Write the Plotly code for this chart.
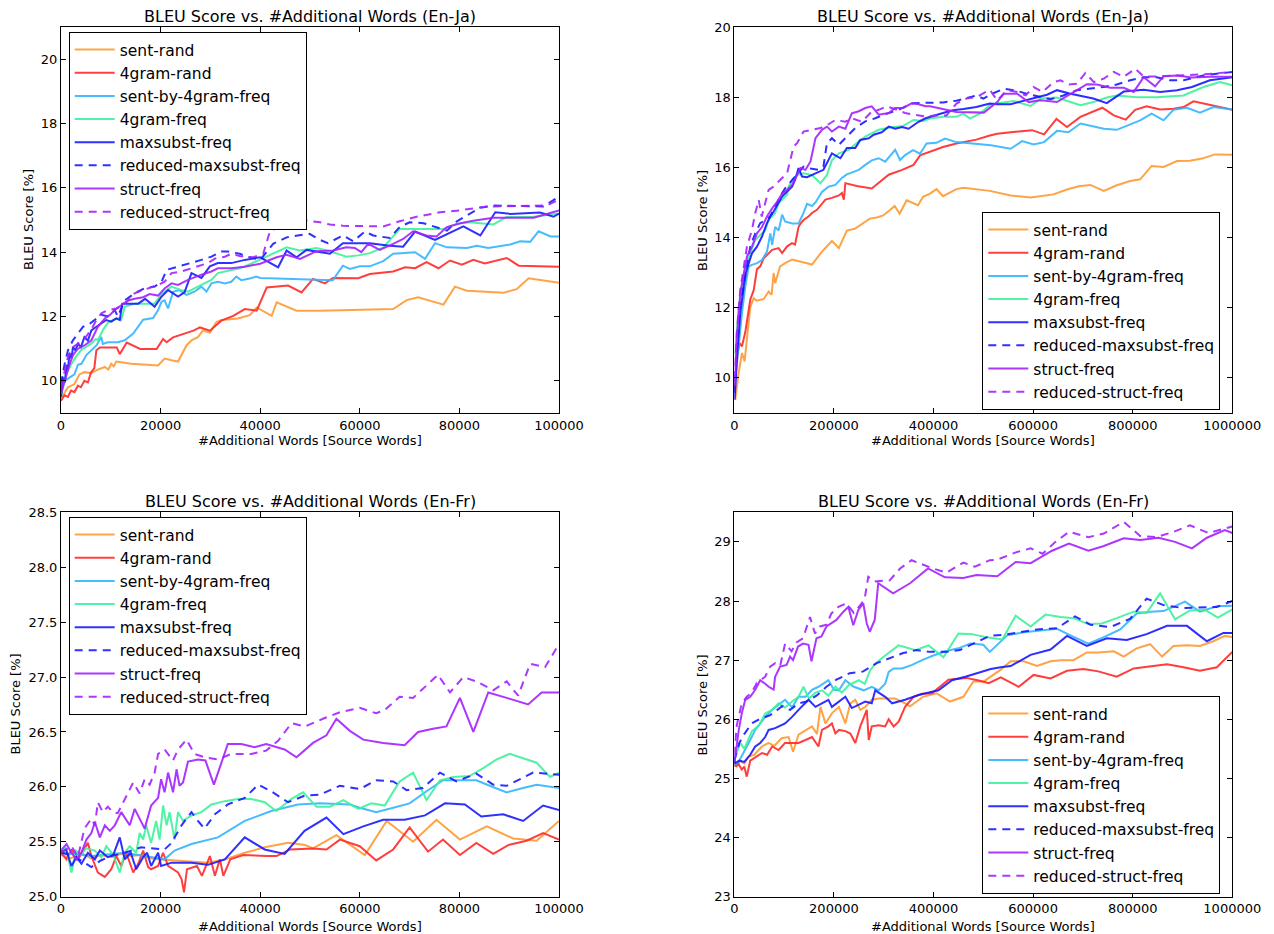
import plotly.graph_objects as go

W, H = 1274, 934

NAMES = ["sent-rand", "4gram-rand", "sent-by-4gram-freq", "4gram-freq",
         "maxsubst-freq", "reduced-maxsubst-freq", "struct-freq", "reduced-struct-freq"]
COLORS = ["#ff9a33", "#ff2b2b", "#33b5ff", "#3df29b", "#1a1aff", "#1a1aff", "#a322ff", "#a322ff"]
DASHES = ["solid", "solid", "solid", "solid", "solid", "8px,6px", "solid", "8px,6px"]

# x values are in thousands of source words
# ---------------- Top-left: En-Ja, 0-100k ----------------
TL_SENT_RAND_X = [0, 1.4, 2.7, 3.7, 4.7, 6, 7.4, 8.8, 9.5, 10.1, 10.6, 11.1, 12.1, 14.1, 19.5, 20.8, 22.2, 23.5, 25.2, 26.2, 27.5, 28.5, 29.9, 31.2, 32.2, 35.5, 37.9, 39.3, 42.3, 43.3, 47.3, 52, 66.7, 69.4, 71.7, 76.8, 79.1, 81.5, 88.9, 91.5, 93.9, 100]
TL_SENT_RAND_Y = [9.45, 9.8, 9.9, 10.2, 10.27, 10.24, 10.35, 10.43, 10.35, 10.53, 10.45, 10.6, 10.58, 10.53, 10.48, 10.69, 10.64, 10.6, 11.1, 11.26, 11.36, 11.57, 11.5, 11.83, 11.89, 11.94, 12.04, 12.28, 12.02, 12.44, 12.18, 12.18, 12.23, 12.51, 12.6, 12.37, 12.93, 12.8, 12.74, 12.85, 13.19, 13.05]
TL_4GRAM_RAND_X = [0, 0.7, 1.4, 2.0, 2.7, 3.4, 4.0, 4.7, 5.4, 6.0, 6.7, 7.1, 7.8, 8.8, 11.2, 11.8, 13.2, 15.9, 19.2, 20.5, 21.2, 22.5, 26.6, 27.9, 29.9, 32.2, 34.6, 36.9, 39.3, 41.3, 45.6, 48.3, 50.6, 53, 54.6, 59.7, 62, 66.7, 69.1, 71.1, 73.4, 75.8, 78.1, 80.5, 82.8, 85.1, 89.5, 91.9, 100]
TL_4GRAM_RAND_Y = [9.38, 9.55, 9.5, 9.7, 9.65, 9.85, 9.8, 10.0, 9.95, 10.25, 10.4, 10.95, 11.04, 11.04, 11.04, 10.83, 11.19, 10.99, 10.99, 11.3, 11.2, 11.35, 11.56, 11.66, 11.56, 11.87, 12.02, 12.23, 12.18, 12.9, 12.96, 12.75, 13.17, 13.03, 13.2, 13.19, 13.32, 13.4, 13.53, 13.5, 13.69, 13.5, 13.74, 13.61, 13.76, 13.65, 13.82, 13.58, 13.55]
TL_SB4_X = [0, 0.7, 1.7, 2.7, 3.4, 4.1, 5.1, 6.1, 7.1, 8.1, 8.4, 9.4, 11.4, 12.8, 14.5, 16.5, 18.5, 19.5, 20.2, 20.8, 21.5, 22.5, 23.8, 25.2, 26.8, 28.2, 29.2, 30.2, 31.5, 32.9, 34.2, 35.2, 36.2, 37.9, 39.2, 40, 54.6, 56.6, 58, 60, 62, 64.7, 66.7, 71.1, 73.1, 75.1, 77.5, 81.5, 83.5, 85.8, 90.2, 92.2, 94.2, 95.9, 98.3, 100]
TL_SB4_Y = [9.8, 10.0, 10.1, 10.2, 10.5, 10.53, 10.8, 10.95, 11.1, 11.36, 11.15, 11.2, 11.2, 11.26, 11.47, 11.9, 11.95, 12.2, 12.46, 12.5, 12.25, 12.77, 12.82, 12.67, 12.77, 12.93, 12.77, 13.03, 13.08, 13.03, 13.08, 13.24, 13.13, 13.18, 13.24, 13.2, 13.13, 13.58, 13.48, 13.56, 13.56, 13.72, 13.95, 14.0, 13.79, 14.28, 14.15, 14.13, 14.2, 14.13, 14.24, 14.34, 14.32, 14.65, 14.49, 14.49]
TL_4GRAM_FREQ_X = [0, 1, 2, 3, 4, 5, 6, 7, 7.4, 8.5, 9.4, 10.5, 11.5, 12.1, 12.8, 14.8, 18.8, 20.2, 22.2, 24.2, 25.5, 27.5, 28.9, 30.2, 31.5, 32.9, 34.2, 35.9, 37.6, 39.2, 45.3, 47.9, 51.3, 54, 57.3, 59.7, 62, 64.7, 68, 76.8, 79.4, 82.1, 86.8, 89.5, 94.9, 100]
TL_4GRAM_FREQ_Y = [9.5, 10.2, 10.5, 10.75, 10.95, 11.05, 11.15, 11.3, 11.26, 11.6, 11.8, 11.9, 11.95, 11.9, 12.3, 12.4, 12.4, 12.7, 12.93, 12.82, 12.77, 12.93, 13.03, 13.14, 13.35, 13.4, 13.45, 13.5, 13.6, 13.71, 14.15, 14.05, 14.13, 14.03, 13.86, 13.9, 13.97, 14.15, 14.72, 14.72, 14.88, 14.93, 14.86, 15.09, 15.1, 15.2]
TL_MAXSUBST_X = [0, 0.4, 0.8, 1.1, 1.4, 1.7, 2.1, 2.4, 2.9, 3.4, 4.0, 4.7, 5.4, 6.1, 7.1, 8.1, 9.1, 10.1, 11.1, 11.8, 12.3, 12.8, 15.5, 16.9, 18.8, 20.2, 21.5, 23.5, 24.8, 26.2, 28.2, 29.9, 31.5, 34.2, 36.9, 40, 43.6, 45.3, 47.3, 49.3, 52, 54, 56.6, 62, 66, 68.7, 71.1, 75.1, 80.8, 84.2, 87.2, 90.2, 96.2, 98.9, 100]
TL_MAXSUBST_Y = [9.5, 10.1, 9.95, 10.5, 10.35, 10.85, 10.7, 11.05, 10.95, 11.15, 11.05, 11.36, 11.25, 11.57, 11.68, 11.78, 11.89, 11.84, 11.94, 11.89, 12.4, 12.4, 12.4, 12.55, 12.3, 12.62, 12.82, 12.62, 12.75, 13.35, 13.2, 13.56, 13.66, 13.66, 13.76, 13.84, 13.53, 14.05, 13.84, 14.07, 14.0, 13.95, 14.28, 14.28, 14.2, 14.17, 14.64, 14.38, 14.8, 14.52, 15.24, 15.19, 15.23, 15.1, 15.2]
TL_RED_MAXSUBST_X = [0, 0.7, 1.4, 2.4, 3.4, 4.4, 5.4, 6.8, 8.1, 9.4, 10.8, 11.4, 12.8, 14.8, 16.8, 18.8, 20.2, 21.2, 23.5, 26.2, 28.2, 30.2, 32.2, 33.5, 35.9, 37.9, 40, 42.6, 45.3, 47.5, 49.9, 52, 53.6, 56.6, 58.7, 61, 62.7, 66, 68, 70, 72.8, 77.5, 79.5, 84.2, 86.8, 96.9, 100]
TL_RED_MAXSUBST_Y = [9.9, 10.5, 10.95, 11.26, 11.47, 11.68, 11.73, 11.9, 12.05, 12.0, 12.2, 12.0, 12.5, 12.72, 12.88, 12.93, 13.08, 13.45, 13.55, 13.66, 13.76, 13.86, 14.02, 14.02, 13.95, 13.84, 13.76, 14.26, 14.46, 14.52, 14.57, 14.38, 14.28, 14.52, 14.34, 14.64, 14.52, 14.44, 14.78, 14.93, 14.9, 14.67, 14.96, 15.38, 15.45, 15.42, 15.73]
TL_STRUCT_X = [0, 0.7, 1.7, 2.4, 3.4, 4.7, 6.1, 7.4, 8.8, 9.8, 10.8, 12.1, 13.5, 14.8, 16.5, 17.8, 19.5, 20.8, 22.2, 23.5, 25.5, 28.2, 30.2, 31.5, 34.2, 36.9, 40, 43.3, 45.3, 48, 51.3, 54.6, 57.3, 59, 60.3, 61.7, 64, 66.7, 68.7, 70.7, 73.4, 75.4, 77.5, 80.2, 82.8, 86.8, 94.9, 100]
TL_STRUCT_Y = [9.6, 10.0, 10.5, 10.8, 11.0, 11.1, 11.26, 11.68, 11.94, 12.05, 12.2, 12.35, 12.5, 12.55, 12.6, 12.7, 12.65, 12.87, 13.03, 12.98, 13.14, 13.3, 13.4, 13.5, 13.5, 13.55, 13.64, 13.84, 13.92, 13.79, 14.03, 14.05, 14.15, 14.13, 14.0, 14.26, 14.07, 14.26, 14.41, 14.65, 14.52, 14.49, 14.78, 14.9, 14.98, 15.07, 15.07, 15.3]
TL_RED_STRUCT_X = [0, 1.4, 2.4, 3.4, 4.7, 6.1, 7.1, 8.1, 9.4, 11.1, 12.4, 13.5, 14.5, 15.5, 17.5, 19.5, 20.8, 22.2, 24.2, 26.2, 27.5, 29.5, 30.9, 32.9, 34.2, 35.9, 37.6, 38.6, 40.6, 42, 45.3, 48, 52, 54, 56.6, 64.7, 68, 71.4, 76.1, 80.1, 85.5, 97.5, 100]
TL_RED_STRUCT_Y = [9.8, 10.75, 11.05, 11.15, 11.3, 11.6, 11.89, 12.1, 12.2, 12.25, 12.35, 12.5, 12.7, 12.77, 12.88, 12.98, 13.08, 13.35, 13.4, 13.5, 13.55, 13.66, 13.8, 13.86, 13.95, 13.88, 13.84, 13.84, 13.95, 14.67, 14.83, 15.0, 14.93, 14.86, 14.82, 14.8, 14.96, 15.1, 15.24, 15.3, 15.42, 15.45, 15.63]

# ---------------- Top-right: En-Ja, 0-1000k ----------------
TR_SENT_RAND_X = [2, 8.7, 15.4, 20.7, 26, 32, 35.5, 39, 45, 59, 69, 75, 79, 82, 92, 102, 116, 156, 176, 196, 210, 226, 242, 259, 272, 286, 299, 312, 322, 332, 346, 369, 379, 393, 406, 419, 446, 460, 473, 513, 555, 595, 641, 668, 692, 715, 742, 768, 795, 815, 838, 862, 889, 915, 939, 965, 1000]
TR_SENT_RAND_Y = [9.38, 10.14, 10.71, 10.47, 11.2, 12.0, 12.15, 12.27, 12.2, 12.25, 12.46, 12.37, 12.99, 12.7, 13.18, 13.27, 13.37, 13.23, 13.6, 13.9, 13.7, 14.2, 14.25, 14.4, 14.54, 14.57, 14.63, 14.78, 14.9, 14.68, 15.06, 14.92, 15.16, 15.25, 15.38, 15.18, 15.38, 15.42, 15.4, 15.33, 15.2, 15.14, 15.23, 15.37, 15.46, 15.5, 15.33, 15.49, 15.61, 15.66, 16.04, 16.01, 16.18, 16.19, 16.25, 16.37, 16.36]
TR_4GRAM_RAND_X = [0.7, 5, 10, 15.4, 22, 29, 32, 39, 45.5, 52, 59, 69, 76, 89, 96, 106, 116, 122, 129, 133, 139, 149, 156, 166, 173, 183, 196, 210, 216, 220, 223, 246, 276, 310, 337, 360, 373, 393, 419, 446, 486, 513, 528, 555, 598, 622, 647, 668, 695, 739, 762, 786, 805, 828, 855, 882, 902, 922, 1000]
TR_4GRAM_RAND_Y = [9.66, 10.52, 11.0, 10.9, 11.3, 11.9, 12.23, 12.5, 13.1, 13.18, 13.41, 13.55, 13.65, 13.7, 13.56, 13.75, 13.84, 13.8, 14.3, 14.4, 14.5, 14.6, 14.7, 14.79, 14.9, 15.08, 15.13, 15.2, 15.27, 15.08, 15.55, 15.47, 15.4, 15.79, 15.93, 16.07, 16.34, 16.44, 16.58, 16.68, 16.79, 16.91, 16.96, 17.0, 17.06, 16.94, 17.38, 17.15, 17.44, 17.7, 17.48, 17.36, 17.64, 17.74, 17.65, 17.67, 17.72, 17.88, 17.64]
TR_SB4_X = [2, 8.7, 15.4, 22, 29, 35.5, 45.5, 55.6, 65.6, 72.3, 76, 82, 89, 96, 102, 116, 129, 139, 146, 156, 163, 176, 189, 203, 216, 226, 250, 263, 276, 290, 303, 323, 333, 343, 359, 373, 386, 406, 423, 446, 486, 515, 555, 578, 601, 622, 648, 671, 695, 742, 768, 795, 815, 838, 862, 882, 909, 935, 962, 1000]
TR_SB4_Y = [9.95, 11.0, 11.85, 12.6, 13.18, 13.22, 13.27, 13.36, 13.6, 14.12, 13.79, 14.3, 14.2, 14.65, 14.46, 14.4, 14.4, 14.7, 14.96, 14.9, 15.0, 15.3, 15.45, 15.5, 15.7, 15.8, 15.93, 16.07, 16.2, 16.26, 16.16, 16.5, 16.21, 16.35, 16.49, 16.39, 16.68, 16.7, 16.82, 16.72, 16.66, 16.63, 16.53, 16.75, 16.65, 16.72, 17.04, 17.0, 17.25, 17.1, 17.07, 17.22, 17.34, 17.53, 17.34, 17.64, 17.7, 17.56, 17.72, 17.65]
TR_4GRAM_FREQ_X = [2, 8.7, 15.4, 22, 32, 42, 55.6, 62, 69, 82, 89, 96, 106, 109, 116, 126, 139, 156, 173, 186, 196, 210, 230, 250, 263, 290, 317, 337, 360, 379, 393, 419, 446, 460, 473, 493, 515, 561, 595, 615, 648, 695, 721, 748, 768, 808, 848, 902, 942, 975, 1000]
TR_4GRAM_FREQ_Y = [10.7, 12.0, 12.5, 13.18, 13.55, 13.93, 14.12, 14.2, 14.5, 14.7, 14.98, 15.07, 15.22, 15.45, 15.64, 15.78, 15.83, 15.78, 15.55, 15.78, 16.2, 16.4, 16.5, 16.74, 16.88, 17.07, 17.15, 17.17, 17.35, 17.32, 17.39, 17.44, 17.44, 17.53, 17.39, 17.53, 17.8, 17.89, 17.75, 17.96, 17.99, 17.77, 17.86, 17.99, 18.05, 18.0, 18.0, 18.05, 18.29, 18.43, 18.34]
TR_MAXSUBST_X = [0.7, 5, 12, 17, 22, 29, 35.5, 45.5, 55.6, 65.6, 72, 79, 89, 96, 106, 116, 122, 129, 136, 146, 163, 179, 196, 213, 226, 243, 253, 270, 280, 296, 310, 323, 337, 350, 370, 384, 419, 439, 460, 486, 513, 528, 555, 595, 628, 648, 675, 721, 748, 782, 822, 855, 889, 919, 955, 1000]
TR_MAXSUBST_Y = [9.38, 10.52, 11.85, 12.42, 12.94, 13.27, 13.55, 13.74, 14.03, 14.41, 14.6, 14.74, 14.98, 15.17, 15.31, 15.45, 15.64, 15.98, 15.74, 15.72, 15.83, 15.93, 16.4, 16.26, 16.55, 16.55, 16.78, 16.83, 16.93, 17.0, 17.16, 17.1, 17.15, 17.1, 17.3, 17.4, 17.55, 17.63, 17.66, 17.72, 17.82, 17.8, 17.8, 17.94, 18.07, 18.2, 18.1, 17.96, 17.83, 18.16, 18.21, 18.15, 18.2, 18.29, 18.48, 18.57]
TR_RED_MAXSUBST_X = [0.7, 5, 12, 19, 25.4, 32, 42, 52, 62, 72, 82, 92, 102, 116, 126, 139, 153, 169, 179, 186, 196, 210, 226, 243, 263, 283, 300, 310, 330, 343, 360, 384, 419, 446, 473, 486, 500, 515, 541, 568, 591, 615, 635, 661, 688, 742, 768, 795, 822, 848, 875, 902, 942, 1000]
TR_RED_MAXSUBST_Y = [9.57, 10.8, 12.04, 12.6, 13.18, 13.74, 14.12, 14.41, 14.5, 14.6, 14.88, 15.17, 15.4, 15.64, 15.83, 16.02, 15.97, 15.93, 16.02, 16.69, 16.83, 16.64, 16.88, 17.12, 17.31, 17.4, 17.5, 17.55, 17.64, 17.73, 17.83, 17.84, 17.85, 17.9, 18.0, 18.05, 17.96, 18.08, 18.24, 18.18, 18.08, 18.0, 17.94, 18.05, 18.2, 18.29, 18.36, 18.48, 18.57, 18.57, 18.48, 18.48, 18.62, 18.72]
TR_STRUCT_X = [0.7, 5, 12, 19, 25.4, 35.5, 45.5, 55.6, 65.6, 76, 86, 96, 106, 116, 126, 133, 143, 153, 163, 176, 186, 196, 210, 223, 236, 250, 263, 276, 290, 310, 323, 340, 357, 370, 384, 393, 446, 474, 501, 528, 541, 568, 591, 615, 648, 688, 708, 728, 755, 782, 802, 822, 845, 862, 889, 919, 955, 1000]
TR_STRUCT_Y = [9.76, 11.09, 12.42, 12.99, 13.46, 13.74, 14.12, 14.3, 14.6, 14.83, 15.02, 15.26, 15.36, 15.5, 15.78, 15.98, 15.93, 16.17, 16.83, 17.07, 17.16, 17.02, 17.16, 17.1, 17.54, 17.6, 17.69, 17.74, 17.5, 17.55, 17.69, 17.7, 17.83, 17.8, 17.74, 17.74, 17.58, 17.58, 17.56, 17.86, 18.1, 18.1, 17.86, 17.91, 17.86, 18.2, 18.37, 18.36, 18.27, 18.27, 18.15, 18.57, 18.31, 18.6, 18.62, 18.56, 18.58, 18.58]
TR_RED_STRUCT_X = [0.7, 5, 12, 19, 25.4, 35.5, 42, 49, 55, 69, 79, 92, 106, 119, 126, 139, 156, 173, 186, 203, 223, 236, 256, 276, 290, 306, 325, 343, 360, 384, 406, 426, 446, 466, 486, 513, 528, 548, 568, 585, 601, 619, 641, 655, 672, 688, 705, 722, 742, 762, 782, 805, 822, 848, 889, 942, 1000]
TR_RED_STRUCT_Y = [9.95, 11.28, 12.51, 13.18, 13.74, 14.22, 14.69, 15.07, 14.6, 15.36, 15.45, 15.64, 15.83, 16.59, 16.69, 17.02, 17.07, 17.12, 17.2, 17.35, 17.3, 17.4, 17.3, 17.59, 17.64, 17.74, 17.65, 17.55, 17.5, 17.45, 17.48, 17.48, 17.82, 17.96, 18.0, 18.21, 17.91, 18.2, 18.15, 18.05, 18.29, 18.15, 18.43, 18.48, 18.36, 18.38, 18.69, 18.43, 18.53, 18.72, 18.58, 18.81, 18.59, 18.59, 18.62, 18.65, 18.72]

# ---------------- Bottom-left: En-Fr, 0-100k ----------------
BL_SENT_RAND_X = [0, 2, 4, 6, 8, 10, 12, 14, 16, 18, 19.5, 23.5, 27, 29.5, 32.9, 36.9, 40.9, 45.6, 49, 50.6, 55.3, 61, 65.4, 70.7, 75.4, 80.1, 85.5, 90.8, 95.5, 100]
BL_SENT_RAND_Y = [25.38, 25.35, 25.4, 25.35, 25.38, 25.36, 25.39, 25.37, 25.38, 25.35, 25.34, 25.33, 25.32, 25.31, 25.34, 25.4, 25.45, 25.49, 25.47, 25.44, 25.56, 25.38, 25.69, 25.5, 25.7, 25.52, 25.64, 25.53, 25.51, 25.69]
BL_4GRAM_RAND_X = [0, 1.1, 2.1, 3.4, 5.4, 6.1, 7.4, 8.8, 10.1, 11.1, 12.1, 13.1, 14.5, 15.5, 16.5, 17.5, 18.1, 19.5, 20.5, 21.5, 23.5, 24.2, 24.7, 25.3, 27.3, 28.3, 29.9, 30.9, 31.9, 32.6, 34, 36.6, 41.3, 43.3, 46, 50.6, 53.3, 56, 60, 63.3, 66.7, 70, 73.7, 76.7, 80.1, 83.4, 86.8, 89.8, 93.5, 96.8, 100]
BL_4GRAM_RAND_Y = [25.4, 25.34, 25.43, 25.34, 25.49, 25.37, 25.22, 25.18, 25.25, 25.37, 25.28, 25.4, 25.22, 25.3, 25.42, 25.27, 25.25, 25.28, 25.4, 25.28, 25.22, 25.16, 25.04, 25.25, 25.28, 25.19, 25.37, 25.19, 25.34, 25.19, 25.34, 25.38, 25.37, 25.37, 25.43, 25.44, 25.43, 25.52, 25.46, 25.33, 25.43, 25.63, 25.41, 25.52, 25.38, 25.49, 25.39, 25.47, 25.51, 25.58, 25.52]
BL_SB4_X = [0, 6.1, 12.8, 16.8, 20.8, 22.8, 26.2, 31.5, 36.9, 42.2, 47.6, 52, 58, 60, 63.3, 66.7, 70, 73.4, 76.7, 79.4, 83.4, 86.1, 89.5, 92.8, 95.5, 100]
BL_SB4_Y = [25.4, 25.37, 25.4, 25.37, 25.34, 25.42, 25.48, 25.54, 25.69, 25.78, 25.84, 25.85, 25.84, 25.81, 25.77, 25.81, 25.85, 25.96, 26.06, 26.06, 26.06, 26.01, 25.95, 25.99, 26.02, 25.99]
BL_4GRAM_FREQ_X = [0, 1, 2.1, 3, 4, 5, 6.8, 8.1, 9.1, 10.5, 11.8, 12.8, 13.8, 15.1, 15.8, 16.5, 17.1, 18.1, 19.1, 19.8, 20.5, 21.2, 21.8, 22.8, 23.5, 24.5, 26.2, 28.2, 30.2, 32.9, 35.5, 38.2, 40.9, 43.2, 46.3, 48.6, 51.3, 54, 56.7, 59.7, 62.3, 65, 68, 70.7, 73.4, 76.1, 78.8, 82.1, 84.4, 87.5, 90.1, 95.5, 98.2, 100]
BL_4GRAM_FREQ_Y = [25.4, 25.45, 25.22, 25.42, 25.38, 25.44, 25.42, 25.36, 25.46, 25.38, 25.22, 25.4, 25.46, 25.4, 25.58, 25.52, 25.65, 25.49, 25.69, 25.52, 25.83, 25.65, 25.77, 25.52, 25.77, 25.69, 25.74, 25.77, 25.84, 25.87, 25.89, 25.89, 25.86, 25.78, 25.89, 25.95, 25.82, 25.82, 25.88, 25.8, 25.85, 25.83, 26.05, 26.13, 25.88, 26.06, 26.09, 26.1, 26.16, 26.25, 26.3, 26.22, 26.09, 26.13]
BL_MAXSUBST_X = [0, 1, 2.1, 3.1, 4.1, 5.4, 6.8, 7.8, 9.4, 10.5, 11.8, 12.8, 14, 15.1, 16.5, 17.3, 18.1, 19.5, 20.1, 22.2, 26.2, 29.5, 32.9, 36.9, 40.9, 44.9, 48.9, 53.3, 56.7, 60.7, 64.7, 69, 73.1, 77.1, 81.1, 84.4, 88.8, 92.8, 96.8, 100]
BL_MAXSUBST_Y = [25.4, 25.43, 25.28, 25.36, 25.3, 25.4, 25.34, 25.42, 25.36, 25.38, 25.54, 25.34, 25.4, 25.25, 25.36, 25.4, 25.28, 25.4, 25.28, 25.31, 25.31, 25.29, 25.34, 25.54, 25.43, 25.39, 25.6, 25.72, 25.57, 25.64, 25.7, 25.7, 25.74, 25.85, 25.84, 25.73, 25.75, 25.69, 25.83, 25.79]
BL_RED_MAXSUBST_X = [0, 2, 4, 6.1, 8, 10.1, 12.8, 16.1, 20.8, 22.2, 24.2, 26.2, 27.5, 28.8, 30.9, 33.5, 36.9, 39.6, 42.2, 45.6, 48.9, 52, 56, 60, 63.3, 66.7, 69.4, 72.7, 76.1, 79.4, 83.4, 86.8, 89.5, 94.8, 100]
BL_RED_MAXSUBST_Y = [25.4, 25.38, 25.33, 25.27, 25.33, 25.37, 25.4, 25.45, 25.43, 25.49, 25.65, 25.77, 25.69, 25.62, 25.75, 25.84, 25.9, 26.02, 25.96, 25.86, 25.92, 25.93, 26.01, 25.98, 26.06, 26.05, 25.97, 25.99, 26.13, 26.05, 26.12, 26.02, 26.01, 26.13, 26.11]
BL_STRUCT_X = [0, 1.1, 2.1, 3.1, 4.1, 5.1, 6.1, 6.8, 7.8, 8.8, 9.8, 10.8, 12.1, 13, 13.8, 14.8, 15.8, 16.8, 18.1, 19.5, 20.1, 20.8, 21.5, 22.5, 23.2, 23.8, 24.5, 25.5, 27.5, 29, 30.7, 33.5, 36.2, 38.9, 41.2, 44.9, 47.3, 50.6, 53.3, 55.3, 58, 60.7, 64.7, 69, 71.7, 74.7, 77.4, 80.1, 82.8, 85.8, 89.5, 93.8, 96.5, 100]
BL_STRUCT_Y = [25.42, 25.48, 25.4, 25.34, 25.4, 25.52, 25.58, 25.68, 25.54, 25.65, 25.6, 25.65, 25.77, 25.7, 25.65, 25.8, 25.71, 25.62, 25.83, 25.9, 26.07, 25.95, 26.13, 25.95, 26.16, 26.01, 26.04, 26.23, 26.25, 26.24, 26.02, 26.39, 26.39, 26.36, 26.39, 26.34, 26.27, 26.4, 26.47, 26.62, 26.51, 26.43, 26.4, 26.38, 26.5, 26.53, 26.55, 26.81, 26.5, 26.86, 26.81, 26.75, 26.86, 26.86]
BL_RED_STRUCT_X = [0, 2.1, 3.4, 4.7, 6.1, 6.8, 7.4, 8.4, 9.4, 10.4, 11.4, 12.5, 13.5, 14.5, 15.8, 16.8, 17.8, 18.8, 19.5, 20.8, 22.5, 23.5, 25.2, 26.8, 28.8, 31.5, 34.2, 38.2, 41.2, 43.6, 46.3, 49, 52.6, 56, 60, 63.3, 65, 68, 70.7, 73.4, 75.7, 78.1, 80.8, 83.4, 86.8, 89.5, 91.8, 94.2, 97.2, 100]
BL_RED_STRUCT_Y = [25.4, 25.46, 25.36, 25.62, 25.71, 25.65, 25.86, 25.77, 25.82, 25.77, 25.76, 25.86, 25.95, 26.04, 25.94, 26.07, 26.02, 26.13, 26.3, 26.34, 26.24, 26.34, 26.43, 26.3, 26.27, 26.25, 26.3, 26.3, 26.33, 26.42, 26.58, 26.55, 26.62, 26.68, 26.72, 26.67, 26.7, 26.82, 26.81, 26.92, 27.02, 26.86, 27.0, 26.96, 26.88, 26.96, 26.83, 27.12, 27.09, 27.3]

# ---------------- Bottom-right: En-Fr, 0-1000k ----------------
BR_SENT_RAND_X = [0, 5, 12, 20, 29, 40, 55.5, 69, 80, 95, 109, 118, 129, 140, 156, 166, 173, 183, 196, 210, 223, 233, 243, 253, 263, 276, 290, 303, 323, 343, 353, 379, 406, 433, 460, 480, 501, 535, 555, 581, 608, 635, 655, 681, 708, 731, 762, 782, 808, 835, 859, 882, 909, 935, 962, 985, 1000]
BR_SENT_RAND_Y = [25.25, 25.2, 25.3, 25.25, 25.37, 25.4, 25.54, 25.6, 25.55, 25.68, 25.7, 25.45, 25.74, 25.8, 25.88, 25.75, 26.21, 25.93, 26.1, 26.21, 25.93, 26.27, 26.33, 26.16, 26.21, 26.33, 26.35, 26.35, 26.35, 26.27, 26.22, 26.38, 26.44, 26.3, 26.38, 26.64, 26.64, 26.84, 26.98, 26.98, 26.9, 26.98, 27.0, 27.0, 27.13, 27.13, 27.15, 27.06, 27.2, 27.27, 27.06, 27.24, 27.25, 27.24, 27.32, 27.41, 27.39]
BR_4GRAM_RAND_X = [0, 2, 8, 15, 20, 25, 32, 45, 55.5, 66, 76, 89, 102, 116, 129, 143, 156, 169, 176, 189, 196, 203, 210, 223, 233, 243, 253, 266, 270, 276, 290, 303, 310, 320, 330, 343, 360, 377, 397, 430, 466, 493, 511, 535, 571, 601, 635, 668, 701, 731, 768, 802, 835, 869, 902, 935, 969, 1000]
BR_4GRAM_RAND_Y = [25.3, 25.2, 25.25, 25.15, 25.2, 25.03, 25.3, 25.37, 25.43, 25.4, 25.54, 25.48, 25.6, 25.6, 25.6, 25.65, 25.7, 25.54, 25.82, 25.88, 25.93, 25.76, 25.82, 25.8, 25.76, 25.6, 25.88, 26.16, 25.65, 25.88, 25.9, 25.88, 26.0, 25.88, 25.96, 26.21, 26.38, 26.43, 26.44, 26.67, 26.7, 26.65, 26.61, 26.71, 26.55, 26.75, 26.69, 26.82, 26.85, 26.81, 26.72, 26.86, 26.89, 26.93, 26.88, 26.82, 26.88, 27.14]
BR_SB4_X = [0, 2, 10, 22, 32, 42, 52, 62, 76, 89, 102, 116, 129, 143, 156, 169, 189, 200, 210, 223, 240, 260, 276, 290, 303, 310, 320, 337, 357, 377, 397, 424, 450, 474, 500, 513, 548, 581, 648, 675, 711, 742, 775, 808, 835, 862, 905, 935, 969, 1000]
BR_SB4_Y = [25.3, 25.23, 25.3, 25.48, 25.65, 25.82, 25.93, 26.04, 26.16, 26.24, 26.33, 26.2, 26.38, 26.38, 26.5, 26.55, 26.66, 26.5, 26.49, 26.66, 26.55, 26.49, 26.55, 26.49, 26.6, 26.8, 26.86, 26.86, 26.92, 27.0, 27.07, 27.15, 27.2, 27.28, 27.26, 27.14, 27.42, 27.47, 27.53, 27.42, 27.28, 27.39, 27.52, 27.79, 27.82, 27.83, 27.99, 27.82, 27.91, 27.92]
BR_4GRAM_FREQ_X = [0, 2, 12, 20, 35.5, 50, 62, 76, 89, 102, 116, 129, 139, 150, 163, 176, 189, 203, 216, 230, 250, 262, 273, 283, 303, 330, 364, 390, 420, 450, 477, 504, 538, 565, 595, 625, 655, 681, 711, 738, 768, 802, 828, 855, 885, 915, 945, 971, 1000]
BR_4GRAM_FREQ_Y = [25.3, 25.37, 25.6, 25.5, 25.8, 25.9, 26.1, 26.16, 26.27, 26.2, 26.3, 26.38, 26.55, 26.35, 26.45, 26.49, 26.4, 26.55, 26.45, 26.58, 26.66, 26.6, 26.83, 26.94, 27.08, 27.25, 27.17, 27.25, 27.05, 27.45, 27.44, 27.39, 27.35, 27.75, 27.57, 27.77, 27.73, 27.71, 27.61, 27.62, 27.71, 27.82, 27.8, 28.13, 27.69, 27.84, 27.85, 27.72, 27.86]
BR_MAXSUBST_X = [0, 2, 10, 20, 32, 42, 52, 62, 69, 82, 102, 116, 129, 149, 163, 176, 189, 196, 210, 223, 236, 250, 263, 276, 283, 303, 317, 343, 370, 410, 437, 464, 490, 515, 535, 555, 595, 635, 668, 708, 748, 788, 828, 869, 909, 949, 982, 1000]
BR_MAXSUBST_Y = [25.3, 25.26, 25.3, 25.28, 25.4, 25.54, 25.6, 25.7, 25.82, 25.85, 25.93, 26.04, 26.16, 26.33, 26.21, 26.27, 26.33, 26.21, 26.3, 26.38, 26.19, 26.24, 26.3, 26.27, 26.49, 26.38, 26.27, 26.33, 26.41, 26.49, 26.66, 26.72, 26.78, 26.85, 26.88, 26.9, 27.09, 27.18, 27.41, 27.24, 27.37, 27.34, 27.44, 27.58, 27.58, 27.32, 27.46, 27.46]
BR_RED_MAXSUBST_X = [0, 2, 10, 20, 35, 50, 72, 82, 96, 112, 129, 145, 165, 185, 205, 232, 259, 286, 306, 339, 366, 393, 426, 453, 480, 513, 541, 608, 648, 684, 715, 755, 795, 828, 862, 902, 969, 1000]
BR_RED_MAXSUBST_Y = [25.3, 25.37, 25.6, 25.75, 25.93, 26.0, 26.07, 26.13, 26.22, 26.16, 26.27, 26.3, 26.4, 26.55, 26.67, 26.78, 26.81, 26.95, 27.01, 27.12, 27.17, 27.14, 27.14, 27.17, 27.28, 27.41, 27.43, 27.52, 27.54, 27.74, 27.6, 27.56, 27.7, 28.04, 27.93, 27.88, 27.9, 28.0]
BR_STRUCT_X = [0, 2, 9, 15, 22, 32, 42, 52, 62, 69, 79, 82, 92, 105, 112, 118, 128, 138, 149, 155, 165, 175, 185, 195, 205, 219, 229, 239, 249, 259, 266, 272, 282, 289, 319, 353, 389, 423, 460, 486, 513, 528, 565, 595, 638, 672, 711, 742, 782, 815, 852, 885, 919, 949, 985, 1000]
BR_STRUCT_Y = [25.3, 25.37, 25.82, 26.1, 26.33, 26.38, 26.5, 26.66, 26.6, 26.55, 26.5, 26.72, 26.89, 26.92, 27.06, 27.0, 27.23, 27.28, 27.26, 26.98, 27.37, 27.4, 27.57, 27.62, 27.68, 27.82, 27.9, 27.59, 27.85, 27.96, 27.62, 27.48, 27.68, 28.3, 28.13, 28.3, 28.55, 28.4, 28.39, 28.44, 28.43, 28.42, 28.66, 28.64, 28.85, 28.97, 28.85, 28.93, 29.06, 29.03, 29.07, 29.0, 28.89, 29.07, 29.2, 29.15]
BR_RED_STRUCT_X = [0, 5, 15, 25, 35, 45, 62, 72, 82, 92, 102, 115, 125, 138, 152, 162, 172, 185, 195, 209, 225, 240, 255, 262, 269, 282, 312, 333, 356, 379, 399, 426, 460, 483, 513, 528, 568, 595, 619, 645, 672, 711, 742, 782, 815, 848, 882, 915, 952, 1000]
BR_RED_STRUCT_Y = [25.4, 25.9, 26.27, 26.38, 26.45, 26.61, 26.72, 26.89, 26.95, 26.9, 27.28, 27.15, 27.3, 27.37, 27.73, 27.45, 27.57, 27.6, 27.79, 27.9, 27.96, 27.8, 27.95, 28.05, 28.41, 28.33, 28.35, 28.55, 28.69, 28.61, 28.55, 28.48, 28.65, 28.58, 28.69, 28.7, 28.83, 28.89, 28.8, 29.0, 29.17, 29.08, 29.14, 29.34, 29.1, 29.08, 29.17, 29.28, 29.15, 29.26]

TITLE_JA = "BLEU Score vs. #Additional Words (En-Ja)"
TITLE_FR = "BLEU Score vs. #Additional Words (En-Fr)"
XLABEL = "#Additional Words [Source Words]"
YLABEL = "BLEU Score [%]"

X_SMALL_TICKS = [0, 20000, 40000, 60000, 80000, 100000]
X_LARGE_TICKS = [0, 200000, 400000, 600000, 800000, 1000000]
Y_TL_TICKS = [10, 12, 14, 16, 18, 20]
Y_TR_TICKS = [10, 12, 14, 16, 18, 20]
Y_BL_TICKS = [25.0, 25.5, 26.0, 26.5, 27.0, 27.5, 28.0, 28.5]
Y_BR_TICKS = [23, 24, 25, 26, 27, 28, 29]

PANELS = [
    dict(ax="x", ay="y", leg="legend",
         series=[(TL_SENT_RAND_X, TL_SENT_RAND_Y), (TL_4GRAM_RAND_X, TL_4GRAM_RAND_Y), (TL_SB4_X, TL_SB4_Y),
                 (TL_4GRAM_FREQ_X, TL_4GRAM_FREQ_Y), (TL_MAXSUBST_X, TL_MAXSUBST_Y),
                 (TL_RED_MAXSUBST_X, TL_RED_MAXSUBST_Y), (TL_STRUCT_X, TL_STRUCT_Y), (TL_RED_STRUCT_X, TL_RED_STRUCT_Y)]),
    dict(ax="x2", ay="y2", leg="legend2",
         series=[(TR_SENT_RAND_X, TR_SENT_RAND_Y), (TR_4GRAM_RAND_X, TR_4GRAM_RAND_Y), (TR_SB4_X, TR_SB4_Y),
                 (TR_4GRAM_FREQ_X, TR_4GRAM_FREQ_Y), (TR_MAXSUBST_X, TR_MAXSUBST_Y),
                 (TR_RED_MAXSUBST_X, TR_RED_MAXSUBST_Y), (TR_STRUCT_X, TR_STRUCT_Y), (TR_RED_STRUCT_X, TR_RED_STRUCT_Y)]),
    dict(ax="x3", ay="y3", leg="legend3",
         series=[(BL_SENT_RAND_X, BL_SENT_RAND_Y), (BL_4GRAM_RAND_X, BL_4GRAM_RAND_Y), (BL_SB4_X, BL_SB4_Y),
                 (BL_4GRAM_FREQ_X, BL_4GRAM_FREQ_Y), (BL_MAXSUBST_X, BL_MAXSUBST_Y),
                 (BL_RED_MAXSUBST_X, BL_RED_MAXSUBST_Y), (BL_STRUCT_X, BL_STRUCT_Y), (BL_RED_STRUCT_X, BL_RED_STRUCT_Y)]),
    dict(ax="x4", ay="y4", leg="legend4",
         series=[(BR_SENT_RAND_X, BR_SENT_RAND_Y), (BR_4GRAM_RAND_X, BR_4GRAM_RAND_Y), (BR_SB4_X, BR_SB4_Y),
                 (BR_4GRAM_FREQ_X, BR_4GRAM_FREQ_Y), (BR_MAXSUBST_X, BR_MAXSUBST_Y),
                 (BR_RED_MAXSUBST_X, BR_RED_MAXSUBST_Y), (BR_STRUCT_X, BR_STRUCT_Y), (BR_RED_STRUCT_X, BR_RED_STRUCT_Y)]),
]

FONT = "DejaVu Sans"
fig = go.Figure()
for p in PANELS:
    for i, (xs, ys) in enumerate(p["series"]):
        fig.add_trace(go.Scatter(
            x=[v * 1000 for v in xs], y=ys, mode="lines", name=NAMES[i],
            xaxis=p["ax"], yaxis=p["ay"], legend=p["leg"],
            line=dict(color=COLORS[i], width=2, dash=DASHES[i]), opacity=0.9,
        ))

def px2x(px):
    return px / W

def py2y(py):
    return 1 - py / H

L1, R1 = 61, 559
L2, R2 = 734.3, 1232.3
T1, B1 = 27, 413
T2, B2 = 512.3, 896.7

def xax(dom, rng, ticks, anchor):
    return dict(domain=[px2x(dom[0]), px2x(dom[1])], range=rng, anchor=anchor, automargin=False,
                tickvals=ticks, tickformat="d", showgrid=False, zeroline=False,
                showline=True, linecolor="black", linewidth=1, mirror="ticks",
                ticks="inside", ticklen=5, tickcolor="black",
                tickfont=dict(family=FONT, size=13, color="black"))

def yax(dom, rng, ticks, anchor, fmt):
    return dict(domain=[py2y(dom[1]), py2y(dom[0])], range=rng, anchor=anchor, automargin=False,
                tickvals=ticks, tickformat=fmt, showgrid=False, zeroline=False,
                showline=True, linecolor="black", linewidth=1, mirror="ticks",
                ticks="inside", ticklen=5, tickcolor="black",
                tickfont=dict(family=FONT, size=13, color="black"))

def legend_at(px, py):
    return dict(x=px2x(px), y=py2y(py), xanchor="left", yanchor="top",
                bgcolor="white", bordercolor="black", borderwidth=1, itemwidth=40,
                font=dict(family=FONT, size=15.5, color="black"))

annotations = []
for (cx, ty, xl_y, yl_x, cy, title) in [
    ((L1 + R1) / 2, 16, 440, 28, (T1 + B1) / 2, TITLE_JA),
    ((L2 + R2) / 2, 16, 440, 702, (T1 + B1) / 2, TITLE_JA),
    ((L1 + R1) / 2, 501.5, 926, 15, (T2 + B2) / 2, TITLE_FR),
    ((L2 + R2) / 2, 501.5, 926, 702, (T2 + B2) / 2, TITLE_FR),
]:
    annotations.append(dict(text=title, x=px2x(cx), y=py2y(ty), xref="paper", yref="paper",
                            showarrow=False, xanchor="center", yanchor="middle",
                            font=dict(family=FONT, size=16, color="black")))
    annotations.append(dict(text=XLABEL, x=px2x(cx), y=py2y(xl_y), xref="paper", yref="paper",
                            showarrow=False, xanchor="center", yanchor="middle",
                            font=dict(family=FONT, size=13, color="black")))
    annotations.append(dict(text=YLABEL, x=px2x(yl_x), y=py2y(cy), xref="paper", yref="paper",
                            showarrow=False, xanchor="center", yanchor="middle", textangle=-90,
                            font=dict(family=FONT, size=13, color="black")))

fig.update_layout(
    template="none",
    width=W, height=H, margin=dict(l=0, r=0, t=0, b=0, autoexpand=False),
    paper_bgcolor="white", plot_bgcolor="white",
    font=dict(family=FONT, color="black"),
    xaxis=xax((L1, R1), [0, 100000], X_SMALL_TICKS, "y"),
    yaxis=yax((T1, B1), [9, 21], Y_TL_TICKS, "x", "d"),
    xaxis2=xax((L2, R2), [0, 1000000], X_LARGE_TICKS, "y2"),
    yaxis2=yax((T1, B1), [9, 20], Y_TR_TICKS, "x2", "d"),
    xaxis3=xax((L1, R1), [0, 100000], X_SMALL_TICKS, "y3"),
    yaxis3=yax((T2, B2), [25, 28.5], Y_BL_TICKS, "x3", ".1f"),
    xaxis4=xax((L2, R2), [0, 1000000], X_LARGE_TICKS, "y4"),
    yaxis4=yax((T2, B2), [23, 29.5], Y_BR_TICKS, "x4", "d"),
    legend=legend_at(68.7, 32),
    legend2=legend_at(982.3, 212),
    legend3=legend_at(68.7, 517),
    legend4=legend_at(982.3, 696),
    annotations=annotations,
    showlegend=True,
)

fig.write_html("out.html", config={"displayModeBar": False},
               post_script="document.body.style.margin='0';document.body.style.overflow='hidden';")
